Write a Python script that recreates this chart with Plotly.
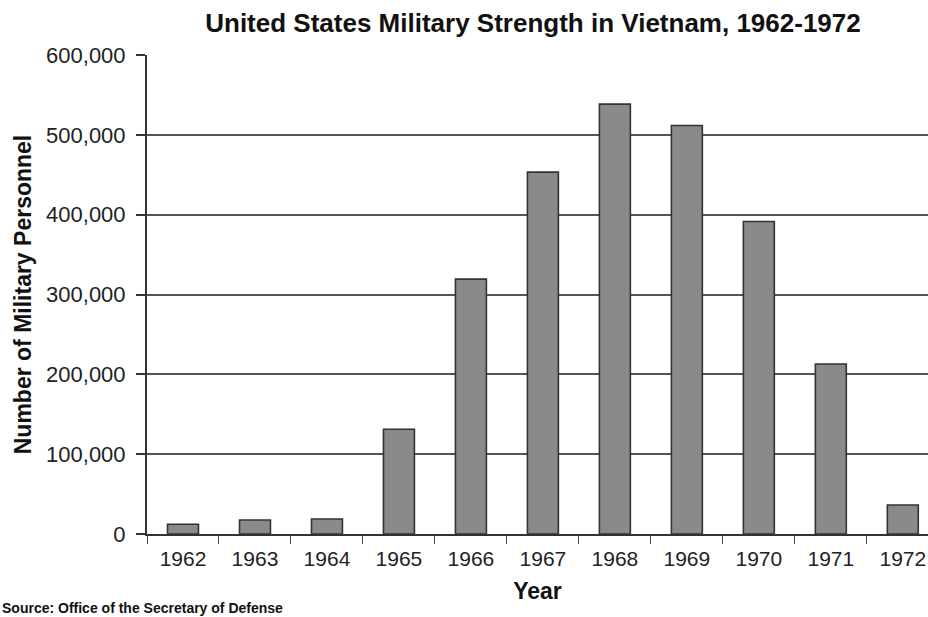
import plotly.graph_objects as go

years = ["1962", "1963", "1964", "1965", "1966", "1967", "1968", "1969", "1970", "1971", "1972"]
personnel = [12200, 17500, 18800, 131200, 319200, 453300, 538500, 511700, 391400, 213000, 36300]
y_ticks = [0, 100000, 200000, 300000, 400000, 500000, 600000]

FONT = "Liberation Sans, Arial, sans-serif"

fig = go.Figure()
fig.add_trace(go.Bar(
    x=years, y=personnel,
    marker=dict(color="#8a8a8a", line=dict(color="#333333", width=1.6)),
    width=0.43,
    hoverinfo="x+y",
))

fig.update_layout(
    width=928, height=617,
    margin=dict(l=147, r=0, t=55, b=83),
    paper_bgcolor="white", plot_bgcolor="white",
    showlegend=False,
    font=dict(family=FONT, color="#222222"),
    title=dict(
        text="<b>United States Military Strength in Vietnam, 1962-1972</b>",
        x=533 / 928, xanchor="center", y=1 - 23 / 617, yanchor="middle",
        font=dict(size=26, family=FONT, color="#111111"),
    ),
)

fig.update_xaxes(
    type="category",
    range=[-0.5, 10.35],
    showline=True, linecolor="#333333", linewidth=2,
    ticks="outside", tickson="boundaries", ticklen=8, tickcolor="#444444", tickwidth=1.2,
    ticklabelstandoff=5,
    tickfont=dict(size=21, color="#222222"),
    showgrid=False,
    title=dict(text="<b>Year</b>", font=dict(size=23, color="#111111"), standoff=14),
)

fig.update_yaxes(
    range=[0, 600000],
    tickvals=y_ticks, tickformat=",",
    showline=True, linecolor="#333333", linewidth=2,
    ticks="outside", ticklen=9, tickcolor="#333333", tickwidth=1.5,
    ticklabelstandoff=6,
    tickfont=dict(size=22, color="#222222"),
    showgrid=True, gridcolor="#555555", gridwidth=1.5,
    zeroline=False,
    title=dict(text="<b>Number of Military Personnel</b>", font=dict(size=23, color="#111111"), standoff=8),
)

fig.add_annotation(
    text="<b>Source: Office of the Secretary of Defense</b>",
    xref="paper", yref="paper", x=-147 / 781, y=-(608 - 534) / 479,
    xanchor="left", yanchor="middle", showarrow=False,
    font=dict(size=14, family=FONT, color="#111111"),
)

fig.write_html("out.html")
